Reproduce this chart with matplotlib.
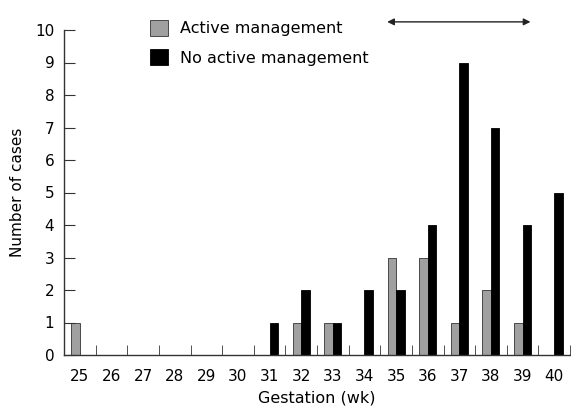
import numpy as np
import matplotlib
matplotlib.use("Agg")
import matplotlib.pyplot as plt

weeks = list(range(25, 41))
active = [1, 0, 0, 0, 0, 0, 0, 1, 1, 0, 3, 3, 1, 2, 1, 0]
no_active = [0, 0, 0, 0, 0, 0, 1, 2, 1, 2, 2, 4, 9, 7, 4, 5]

plt.rcParams["font.family"] = "DejaVu Sans"

fig = plt.figure(figsize=(5.71, 4.12), dpi=100)
ax = fig.add_axes([64 / 571, 1 - 355 / 412, 506 / 571, 325 / 412])

x = np.array(weeks, dtype=float)
w = 0.27
ax.bar(x - w / 2, active, width=w, color="#a0a0a0", edgecolor="#333333",
       linewidth=0.6, label="Active management")
ax.bar(x + w / 2, no_active, width=w, color="black", edgecolor="black",
       linewidth=0.6, label="No active management")

ax.set_xlim(24.5, 40.5)
ax.set_ylim(0, 10)
ax.spines["top"].set_visible(False)
ax.spines["right"].set_visible(False)
for s in ("left", "bottom"):
    ax.spines[s].set_color("#333333")
    ax.spines[s].set_linewidth(1.0)

# category labels without ticks, ticks at boundaries
ax.set_xticks(x)
ax.set_xticklabels([str(v) for v in weeks], fontsize=11)
ax.tick_params(axis="x", length=0, pad=10)
ax.set_xticks(np.arange(25.5, 41, 1.0), minor=True)
ax.tick_params(axis="x", which="minor", direction="in", length=7, color="#333333")

ax.set_yticks(range(0, 11))
ax.tick_params(axis="y", direction="in", length=8, labelsize=11, pad=7,
               color="#333333")

ax.set_xlabel("Gestation (wk)", fontsize=11.5, labelpad=5)
ax.set_ylabel("Number of cases", fontsize=11, labelpad=7)

ax.legend(loc="upper left", bbox_to_anchor=(0.170, 1.032), frameon=False,
          fontsize=11.5, handlelength=1.1, handleheight=1.2,
          handletextpad=0.75, labelspacing=0.8, borderpad=0, borderaxespad=0)

ax.annotate("", xy=(34.72, 10.25), xytext=(39.25, 10.25),
            xycoords="data", annotation_clip=False,
            arrowprops=dict(arrowstyle="<|-|>", color="#222222", lw=1.0,
                            mutation_scale=10, shrinkA=0, shrinkB=0))

fig.savefig("out.png", dpi=100)
